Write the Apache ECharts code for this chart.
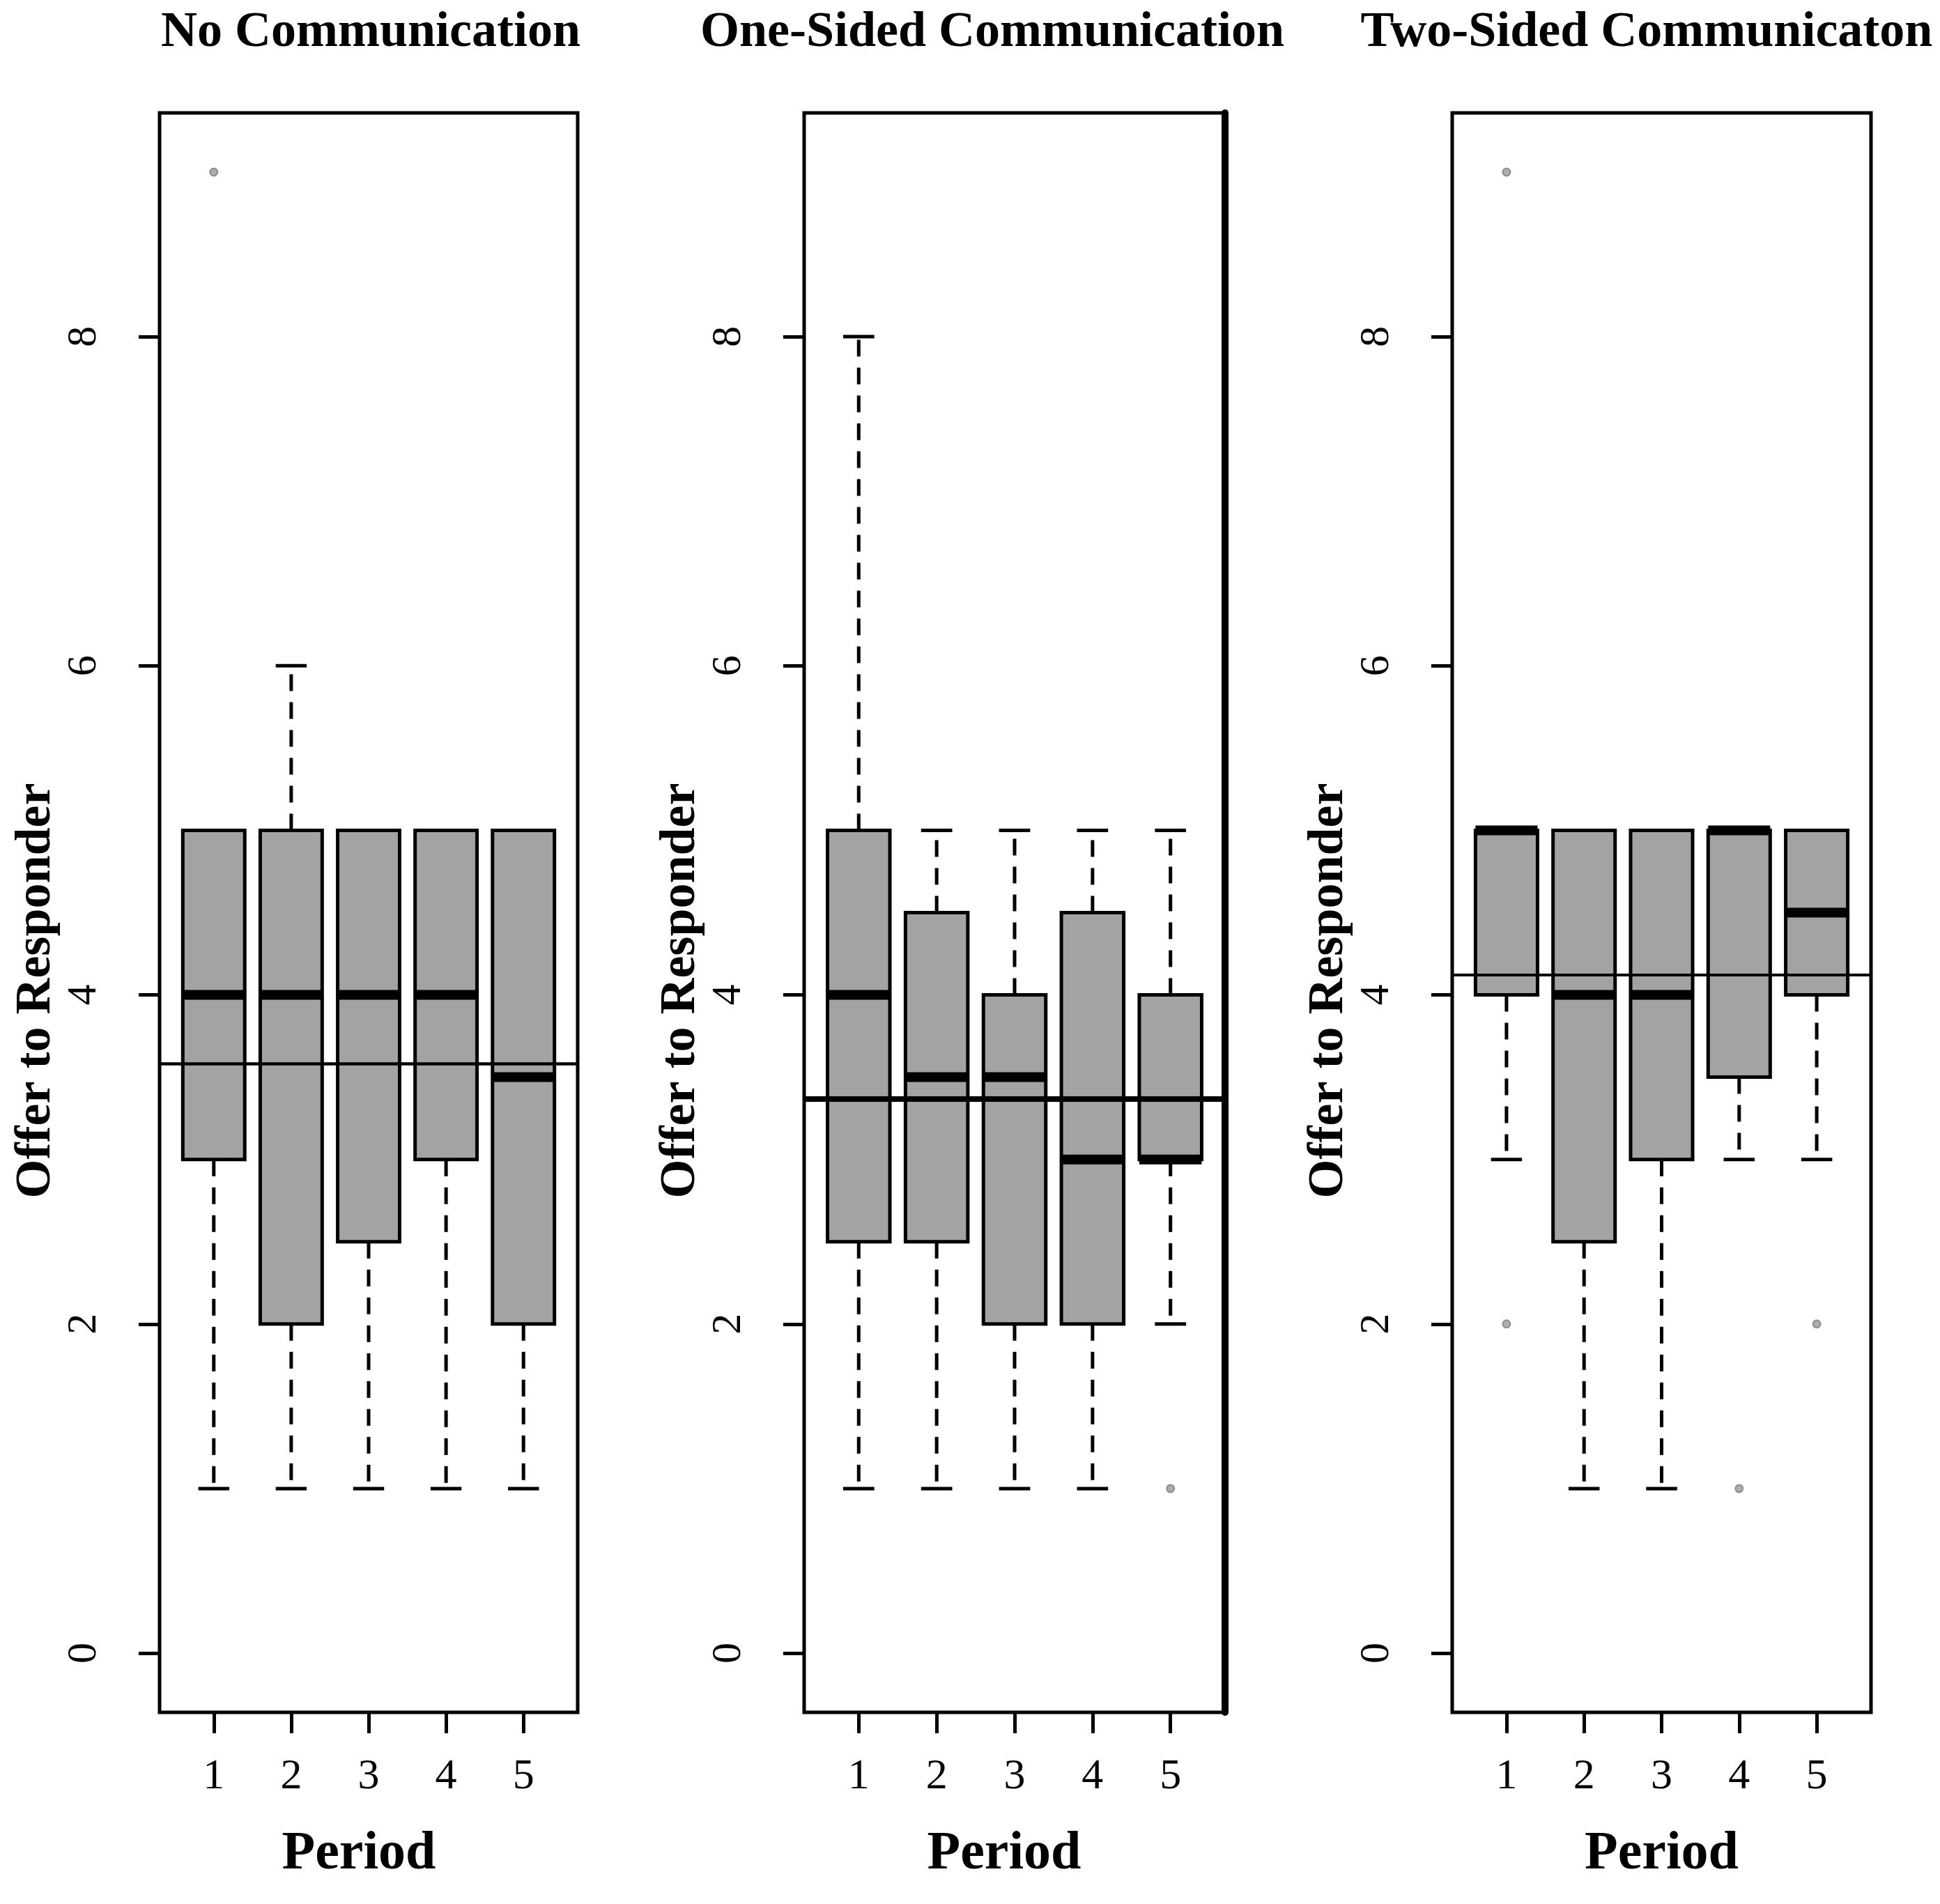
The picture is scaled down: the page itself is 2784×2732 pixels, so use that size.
<!DOCTYPE html>
<html>
<head>
<meta charset="utf-8">
<title>Offer to Responder by Period</title>
<script src="https://cdn.jsdelivr.net/npm/echarts@6/dist/echarts.min.js"></script>
<style>
  html, body { margin: 0; padding: 0; background: #ffffff; }
  #chart { width: 2784px; height: 2732px; }
</style>
</head>
<body>
<div id="chart"></div>
<script>
const periods = [1, 2, 3, 4, 5];
const yTicks = [0, 2, 4, 6, 8];
const panelTitles = ['No Communication', 'One-Sided Communication', 'Two-Sided Communicaton'];

// per period: [lower whisker, Q1, median, Q3, upper whisker]
const noCommStats = [[1, 3, 4, 5, 5], [1, 2, 4, 5, 6], [1, 2.5, 4, 5, 5], [1, 3, 4, 5, 5], [1, 2, 3.5, 5, 5]];
const oneSidedStats = [[1, 2.5, 4, 5, 8], [1, 2.5, 3.5, 4.5, 5], [1, 2, 3.5, 4, 5], [1, 2, 3, 4.5, 5], [2, 3, 3, 4, 5]];
const twoSidedStats = [[3, 4, 5, 5, 5], [1, 2.5, 4, 5, 5], [1, 3, 4, 5, 5], [3, 3.5, 5, 5, 5], [3, 4, 4.5, 5, 5]];

// outliers: [period, value]
const noCommOutliers = [[1, 9]];
const oneSidedOutliers = [[5, 1]];
const twoSidedOutliers = [[1, 9], [1, 2], [4, 1], [5, 2]];

// overall mean of each treatment (horizontal line)
const groupMeans = [3.58, 3.37, 4.12];

const allStats = [noCommStats, oneSidedStats, twoSidedStats];
const allOutliers = [noCommOutliers, oneSidedOutliers, twoSidedOutliers];

const FONT = 'Liberation Serif';
const BOX_HALF = 0.4;   // box width 0.8 like R
const CAP_HALF = 0.2;

// layout of the three panels (pixels)
const panels = [
    { left: 229, width: 600, titleX: 527, periodPad: 28, meanWidth: 4.5, rightEdge: 0 },
    { left: 1154, width: 604, titleX: 1419, periodPad: 30, meanWidth: 8, rightEdge: 10 },
    { left: 2084, width: 601, titleX: 2358, periodPad: 0, meanWidth: 4, rightEdge: 0 }
];

const chart = echarts.init(document.getElementById('chart'));

function renderBox(params, api) {
    const x = api.value(0);
    const lo = api.value(1), q1 = api.value(2), med = api.value(3), q3 = api.value(4), hi = api.value(5);

    const boxTL = api.coord([x - BOX_HALF, q3]);
    const boxBR = api.coord([x + BOX_HALF, q1]);
    const cx = api.coord([x, 0])[0];
    const capL = api.coord([x - CAP_HALF, 0])[0];
    const capR = api.coord([x + CAP_HALF, 0])[0];
    const yLo = api.coord([x, lo])[1];
    const yHi = api.coord([x, hi])[1];
    const yMed = api.coord([x, med])[1];

    const dashed = { stroke: '#000', lineWidth: 5, lineDash: [24, 16], fill: null };
    const solid = { stroke: '#000', lineWidth: 5, fill: null };

    return {
        type: 'group',
        children: [
            // whiskers
            { type: 'line', shape: { x1: cx, y1: boxTL[1], x2: cx, y2: yHi }, style: dashed },
            { type: 'line', shape: { x1: cx, y1: boxBR[1], x2: cx, y2: yLo }, style: dashed },
            // staples
            { type: 'line', shape: { x1: capL, y1: yHi, x2: capR, y2: yHi }, style: solid },
            { type: 'line', shape: { x1: capL, y1: yLo, x2: capR, y2: yLo }, style: solid },
            // box
            {
                type: 'rect',
                shape: { x: boxTL[0], y: boxTL[1], width: boxBR[0] - boxTL[0], height: boxBR[1] - boxTL[1] },
                style: { fill: '#a3a3a3', stroke: '#000', lineWidth: 5 }
            },
            // median
            {
                type: 'line',
                shape: { x1: boxTL[0], y1: yMed, x2: boxBR[0], y2: yMed },
                style: { stroke: '#000', lineWidth: 14, lineCap: 'butt' }
            }
        ]
    };
}

const option = {
    animation: false,
    backgroundColor: '#ffffff',
    title: [],
    grid: [],
    xAxis: [],
    yAxis: [],
    series: []
};

panels.forEach(function(p, i) {
    option.title.push({
        text: panelTitles[i],
        left: p.titleX,
        top: 6,
        textAlign: 'center',
        textStyle: { fontFamily: FONT, fontSize: 72, fontWeight: 'bold', color: '#000' }
    });

    option.grid.push({
        left: p.left,
        top: 162,
        width: p.width,
        height: 2295,
        show: true,
        borderColor: '#000',
        borderWidth: 5,
        backgroundColor: 'transparent'
    });

    option.xAxis.push({
        type: 'value',
        gridIndex: i,
        min: 0.3,
        max: 5.7,
        splitLine: { show: false },
        axisLine: { show: false, onZero: false },
        axisTick: {
            show: true,
            length: 30,
            customValues: periods,
            lineStyle: { color: '#000', width: 5 }
        },
        axisLabel: {
            customValues: periods,
            margin: 62,
            fontFamily: FONT,
            fontSize: 62,
            color: '#000'
        },
        name: 'Period',
        nameLocation: 'middle',
        nameGap: 165,
        nameTextStyle: {
            fontFamily: FONT,
            fontSize: 78,
            fontWeight: 'bold',
            color: '#000',
            padding: [0, p.periodPad, 0, 0]
        }
    });

    option.yAxis.push({
        type: 'value',
        gridIndex: i,
        min: -0.36,
        max: 9.36,
        splitLine: { show: false },
        axisLine: { show: false, onZero: false },
        axisTick: {
            show: true,
            length: 30,
            customValues: yTicks,
            lineStyle: { color: '#000', width: 5 }
        },
        axisLabel: {
            customValues: yTicks,
            rotate: 90,
            margin: 78,
            fontFamily: FONT,
            fontSize: 60,
            color: '#000'
        },
        name: 'Offer to Responder',
        nameLocation: 'middle',
        nameRotate: 90,
        nameGap: 141,
        nameTextStyle: {
            fontFamily: FONT,
            fontSize: 72,
            fontWeight: 'bold',
            color: '#000',
            padding: [0, 224, 0, 0]
        }
    });

    option.series.push({
        type: 'custom',
        name: panelTitles[i],
        xAxisIndex: i,
        yAxisIndex: i,
        renderItem: renderBox,
        encode: { x: 0, y: [1, 2, 3, 4, 5] },
        data: periods.map(function(per, k) { return [per].concat(allStats[i][k]); }),
        z: 2
    });

    option.series.push({
        type: 'scatter',
        xAxisIndex: i,
        yAxisIndex: i,
        symbol: 'circle',
        symbolSize: 11,
        itemStyle: { color: '#9a9a9a', borderColor: '#7a7a7a', borderWidth: 2 },
        data: allOutliers[i],
        z: 3
    });

    option.series.push({
        type: 'line',
        xAxisIndex: i,
        yAxisIndex: i,
        data: [],
        z: 5,
        markLine: {
            silent: true,
            symbol: 'none',
            label: { show: false },
            lineStyle: { color: '#000', width: p.meanWidth, type: 'solid' },
            data: [{ yAxis: groupMeans[i] }]
        }
    });
});

// the middle panel has a heavier right frame edge
panels.forEach(function(p, i) {
    if (!p.rightEdge) return;
    option.yAxis.push({
        type: 'value',
        gridIndex: i,
        position: 'right',
        min: -0.36,
        max: 9.36,
        splitLine: { show: false },
        axisTick: { show: false },
        axisLabel: { show: false },
        axisLine: { show: true, onZero: false, lineStyle: { color: '#000', width: p.rightEdge } }
    });
});

chart.setOption(option);
</script>
</body>
</html>
